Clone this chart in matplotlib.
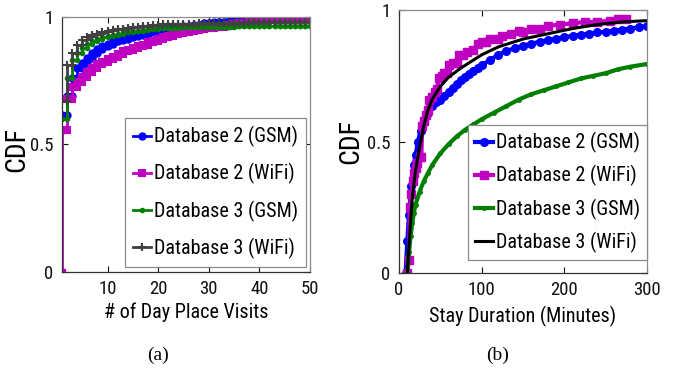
import numpy as np
import matplotlib
matplotlib.use("Agg")
import matplotlib.pyplot as plt

plt.rcParams['font.family'] = ['Roboto Condensed', 'Liberation Sans', 'DejaVu Sans']

# (a) number of day place visits, CDF at each count 1..50
visits = np.arange(1, 51)
d2_gsm_a = [0.615, 0.69, 0.76, 0.80, 0.82, 0.84, 0.86, 0.875, 0.885, 0.895,
            0.905, 0.91, 0.915, 0.92, 0.925, 0.93, 0.935, 0.94, 0.945, 0.95,
            0.952, 0.955, 0.958, 0.96, 0.963, 0.966, 0.968, 0.97, 0.975, 0.978,
            0.98, 0.98, 0.982, 0.983, 0.984, 0.985, 0.985, 0.986, 0.987, 0.988,
            0.99, 0.99, 0.991, 0.992, 0.993, 0.994, 0.995, 0.996, 0.997, 0.997]
d2_wifi_a = [0.557, 0.68, 0.725, 0.745, 0.765, 0.785, 0.80, 0.815, 0.825, 0.835,
             0.845, 0.855, 0.865, 0.87, 0.877, 0.885, 0.892, 0.90, 0.907, 0.913,
             0.92, 0.927, 0.933, 0.938, 0.942, 0.946, 0.95, 0.953, 0.956, 0.958,
             0.96, 0.962, 0.965, 0.968, 0.972, 0.975, 0.978, 0.98, 0.983, 0.985,
             0.987, 0.989, 0.99, 0.992, 0.993, 0.994, 0.995, 0.996, 0.997, 0.998]
d3_gsm_a = [0.60, 0.76, 0.83, 0.86, 0.88, 0.895, 0.905, 0.913, 0.92, 0.925,
            0.93, 0.935, 0.94, 0.942, 0.945, 0.947, 0.949, 0.951, 0.953, 0.955,
            0.956, 0.957, 0.958, 0.959, 0.96, 0.96, 0.96, 0.961, 0.961, 0.961,
            0.962, 0.962, 0.962, 0.962, 0.963, 0.963, 0.963, 0.963, 0.963, 0.964,
            0.964, 0.964, 0.964, 0.964, 0.964, 0.965, 0.965, 0.965, 0.965, 0.965]
d3_wifi_a = [0.67, 0.81, 0.86, 0.89, 0.91, 0.92, 0.928, 0.935, 0.94, 0.945,
             0.948, 0.951, 0.954, 0.957, 0.96, 0.962, 0.964, 0.966, 0.968, 0.97,
             0.971, 0.972, 0.972, 0.973, 0.973, 0.974, 0.974, 0.975, 0.975, 0.976,
             0.977, 0.977, 0.977, 0.978, 0.978, 0.978, 0.978, 0.979, 0.979, 0.979,
             0.979, 0.979, 0.98, 0.98, 0.98, 0.98, 0.98, 0.98, 0.98, 0.98]

# (b) stay duration in minutes
dur_d2_gsm = [8, 10, 12, 15, 18, 20, 23, 26, 30, 35, 40, 45, 50, 55, 60, 65, 70,
              75, 80, 85, 90, 95, 100, 110, 120, 130, 140, 150, 160, 170, 180,
              190, 200, 210, 220, 230, 240, 250, 260, 270, 280, 290, 300]
cdf_d2_gsm = [0.0, 0.12, 0.22, 0.33, 0.41, 0.45, 0.50, 0.54, 0.58, 0.61, 0.635,
              0.65, 0.66, 0.675, 0.69, 0.705, 0.72, 0.733, 0.745, 0.758, 0.77,
              0.78, 0.79, 0.81, 0.83, 0.845, 0.855, 0.865, 0.872, 0.88, 0.886,
              0.892, 0.897, 0.902, 0.907, 0.911, 0.915, 0.918, 0.922, 0.926,
              0.93, 0.935, 0.94]
dur_d2_wifi = [10, 12, 13, 15, 17, 18, 20, 22, 25, 27, 28, 30, 33, 35, 36, 40, 43,
               46, 48, 52, 55, 58, 60, 65, 70, 72, 78, 82, 90, 95, 100, 105, 110,
               120, 125, 135, 145, 150, 160, 170, 180, 195, 210, 225, 240, 255,
               265, 275]
cdf_d2_wifi = [0.0, 0.05, 0.25, 0.30, 0.35, 0.38, 0.40, 0.42, 0.44, 0.44, 0.56,
               0.58, 0.60, 0.62, 0.66, 0.67, 0.69, 0.70, 0.74, 0.75, 0.76, 0.76,
               0.79, 0.80, 0.80, 0.83, 0.83, 0.84, 0.85, 0.87, 0.88, 0.88, 0.89,
               0.89, 0.90, 0.91, 0.92, 0.915, 0.93, 0.93, 0.94, 0.945, 0.95,
               0.955, 0.955, 0.96, 0.965, 0.965]
dur_d3_gsm = [10, 12, 14, 16, 18, 20, 25, 30, 35, 40, 50, 60, 70, 80, 90, 100,
              115, 130, 145, 160, 175, 190, 205, 220, 235, 250, 265, 280, 300]
cdf_d3_gsm = [0.0, 0.08, 0.14, 0.19, 0.23, 0.26, 0.31, 0.35, 0.38, 0.41, 0.455,
              0.49, 0.52, 0.545, 0.565, 0.585, 0.61, 0.635, 0.66, 0.68, 0.695,
              0.71, 0.725, 0.74, 0.75, 0.76, 0.775, 0.785, 0.795]
dur_d3_wifi = [10, 12, 14, 16, 18, 20, 25, 30, 35, 40, 50, 60, 75, 90, 100, 120,
               150, 180, 210, 240, 270, 300]
cdf_d3_wifi = [0.0, 0.10, 0.20, 0.28, 0.34, 0.39, 0.48, 0.56, 0.62, 0.66, 0.71,
               0.745, 0.78, 0.81, 0.83, 0.86, 0.89, 0.91, 0.93, 0.945, 0.955, 0.96]

labels = ['Database 2 (GSM)', 'Database 2 (WiFi)', 'Database 3 (GSM)', 'Database 3 (WiFi)']

blue = '#0000ff'
mag = '#c000c0'
green = '#008000'
gray = '#404040'


def style_axes(ax, lx, ly):
    ax.tick_params(direction='in', top=True, right=True, labelsize=13.5,
                   length=4, width=0.8, pad=6, colors='#111111')
    for sp in ['top', 'right']:
        ax.spines[sp].set_color('#8c8c8c')
    for sp in ['left', 'bottom']:
        ax.spines[sp].set_color('#333333')
    for sp in ax.spines.values():
        sp.set_linewidth(0.9)
    ax.set_ylim(0, 1)
    ax.set_yticks([0, 0.5, 1])
    ax.set_yticklabels(['0', '0.5', '1'])
    ax.set_ylabel('CDF', fontsize=20)
    ax.yaxis.set_label_coords(lx, ly)


def style_legend(leg):
    leg.get_frame().set_edgecolor('#8c8c8c')
    leg.get_frame().set_linewidth(0.9)


fig = plt.figure(figsize=(6.85, 3.75), dpi=100)
ax1 = fig.add_axes([0.0905, 0.2747, 0.362, 0.68])
ax2 = fig.add_axes([0.5825, 0.272, 0.362, 0.701])

# (a) stairs with markers on every corner
series_a = [(d2_gsm_a, blue, 'o', 4.5), (d2_wifi_a, mag, 's', 5),
            (d3_gsm_a, green, '.', 5), (d3_wifi_a, gray, '+', 6)]
for (vals, col, mk, ms), lab in zip(series_a, labels):
    vals = np.array(vals)
    ax1.plot(visits, vals, drawstyle='steps-post', color=col, lw=2,
             marker=mk, ms=ms, mew=1.5, label=lab)
    ax1.plot(visits[1:], vals[:-1], ls='none', color=col, marker=mk, ms=ms, mew=1.5)
# D2 WiFi curve starts from zero
ax1.plot([1, 1], [0, d2_wifi_a[0]], color=mag, lw=2, marker='s', ms=5)

ax1.set_xlim(1, 50)
ax1.set_xticks([10, 20, 30, 40, 50])
style_axes(ax1, -0.128, 0.48)
ax1.set_xlabel('# of Day Place Visits', fontsize=14.5, labelpad=3)
leg1 = ax1.legend(loc='lower right', bbox_to_anchor=(0.985, 0.02), fontsize=14.5,
                  handlelength=0.9, handletextpad=0.15, labelspacing=0.8,
                  borderpad=0.4, borderaxespad=0, fancybox=False, framealpha=1)
style_legend(leg1)

# (b)
ax2.plot(dur_d2_gsm, cdf_d2_gsm, color=blue, lw=3, marker='o', ms=5.5, label=labels[0])
ax2.plot(dur_d2_wifi, cdf_d2_wifi, color=mag, lw=3, marker='s', ms=5.5, label=labels[1])
ax2.plot(dur_d3_gsm, cdf_d3_gsm, color=green, lw=3, marker='.', ms=5, label=labels[2])
ax2.plot(dur_d3_wifi, cdf_d3_wifi, color='black', lw=2.2, label=labels[3])
ax2.set_xlim(0, 300)
ax2.set_xticks([0, 100, 200, 300])
style_axes(ax2, -0.142, 0.50)
ax2.set_xlabel('Stay Duration (Minutes)', fontsize=14.5, labelpad=5)
leg2 = ax2.legend(loc='lower right', bbox_to_anchor=(1.0, 0.05), fontsize=14.5,
                  handlelength=0.9, handletextpad=0.15, labelspacing=0.6,
                  borderpad=0.35, borderaxespad=0, fancybox=False, framealpha=1)
style_legend(leg2)

fig.text(0.231, 0.053, '(a)', family='Liberation Serif', fontsize=14, ha='center', va='center')
fig.text(0.726, 0.053, '(b)', family='Liberation Serif', fontsize=14, ha='center', va='center')

fig.savefig('out.png', dpi=100)
